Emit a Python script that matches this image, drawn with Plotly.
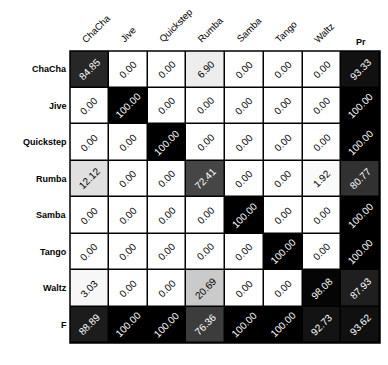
import plotly.graph_objects as go

row_labels = ["ChaCha", "Jive", "Quickstep", "Rumba", "Samba", "Tango", "Waltz", "F"]
col_labels = ["ChaCha", "Jive", "Quickstep", "Rumba", "Samba", "Tango", "Waltz", "Pr"]
values = [
    [84.85, 0.00, 0.00, 6.90, 0.00, 0.00, 0.00, 93.33],
    [0.00, 100.00, 0.00, 0.00, 0.00, 0.00, 0.00, 100.00],
    [0.00, 0.00, 100.00, 0.00, 0.00, 0.00, 0.00, 100.00],
    [12.12, 0.00, 0.00, 72.41, 0.00, 0.00, 1.92, 80.77],
    [0.00, 0.00, 0.00, 0.00, 100.00, 0.00, 0.00, 100.00],
    [0.00, 0.00, 0.00, 0.00, 0.00, 100.00, 0.00, 100.00],
    [3.03, 0.00, 0.00, 20.69, 0.00, 0.00, 98.08, 87.93],
    [88.89, 100.00, 100.00, 76.36, 100.00, 100.00, 92.73, 93.62],
]

FONT = "Liberation Sans, Arial, sans-serif"
nr, nc = len(row_labels), len(col_labels)

fig = go.Figure(go.Heatmap(
    z=values,
    x=list(range(nc)),
    y=list(range(nr)),
    colorscale=[[0, "#ffffff"], [1, "#000000"]],
    zmin=0, zmax=100,
    showscale=False,
    xgap=1.5, ygap=1.5,
    hoverinfo="skip",
))

ann = []
for i in range(nr):
    for j in range(nc):
        v = values[i][j]
        ann.append(dict(
            x=j, y=i, xref="x", yref="y", text=f"{v:.2f}",
            textangle=-45, showarrow=False,
            font=dict(family=FONT, size=10, color="white" if v > 50 else "black"),
        ))
for j, c in enumerate(col_labels):
    if c == "Pr":
        ann.append(dict(x=j, y=1.008, xref="x", yref="paper", text="<b>Pr</b>",
                        showarrow=False, xanchor="center", yanchor="bottom",
                        font=dict(family=FONT, size=9, color="black")))
    else:
        ann.append(dict(x=j - 0.33, y=1.012, xref="x", yref="paper", text=c,
                        textangle=-45, showarrow=False, xanchor="left", yanchor="bottom",
                        font=dict(family=FONT, size=9.5, color="black")))
for i, r in enumerate(row_labels):
    ann.append(dict(x=-0.002, y=i, xref="paper", yref="y", text=f"<b>{r}</b>",
                    showarrow=False, xanchor="right", yanchor="middle",
                    font=dict(family=FONT, size=9, color="black")))

fig.update_layout(
    width=388, height=365,
    margin=dict(l=70, r=8, t=51, b=22),
    paper_bgcolor="white",
    plot_bgcolor="black",
    annotations=ann,
    xaxis=dict(range=[-0.5, nc - 0.5], showticklabels=False, showgrid=False,
               zeroline=False, ticks=""),
    yaxis=dict(range=[nr - 0.5, -0.5], showticklabels=False, showgrid=False,
               zeroline=False, ticks=""),
    shapes=[dict(type="rect", xref="paper", yref="paper", x0=0, y0=0, x1=1, y1=1,
                 line=dict(color="black", width=1.5))],
)

fig.write_html("out.html", config={"displayModeBar": False},
               post_script="document.body.style.margin='0';")
